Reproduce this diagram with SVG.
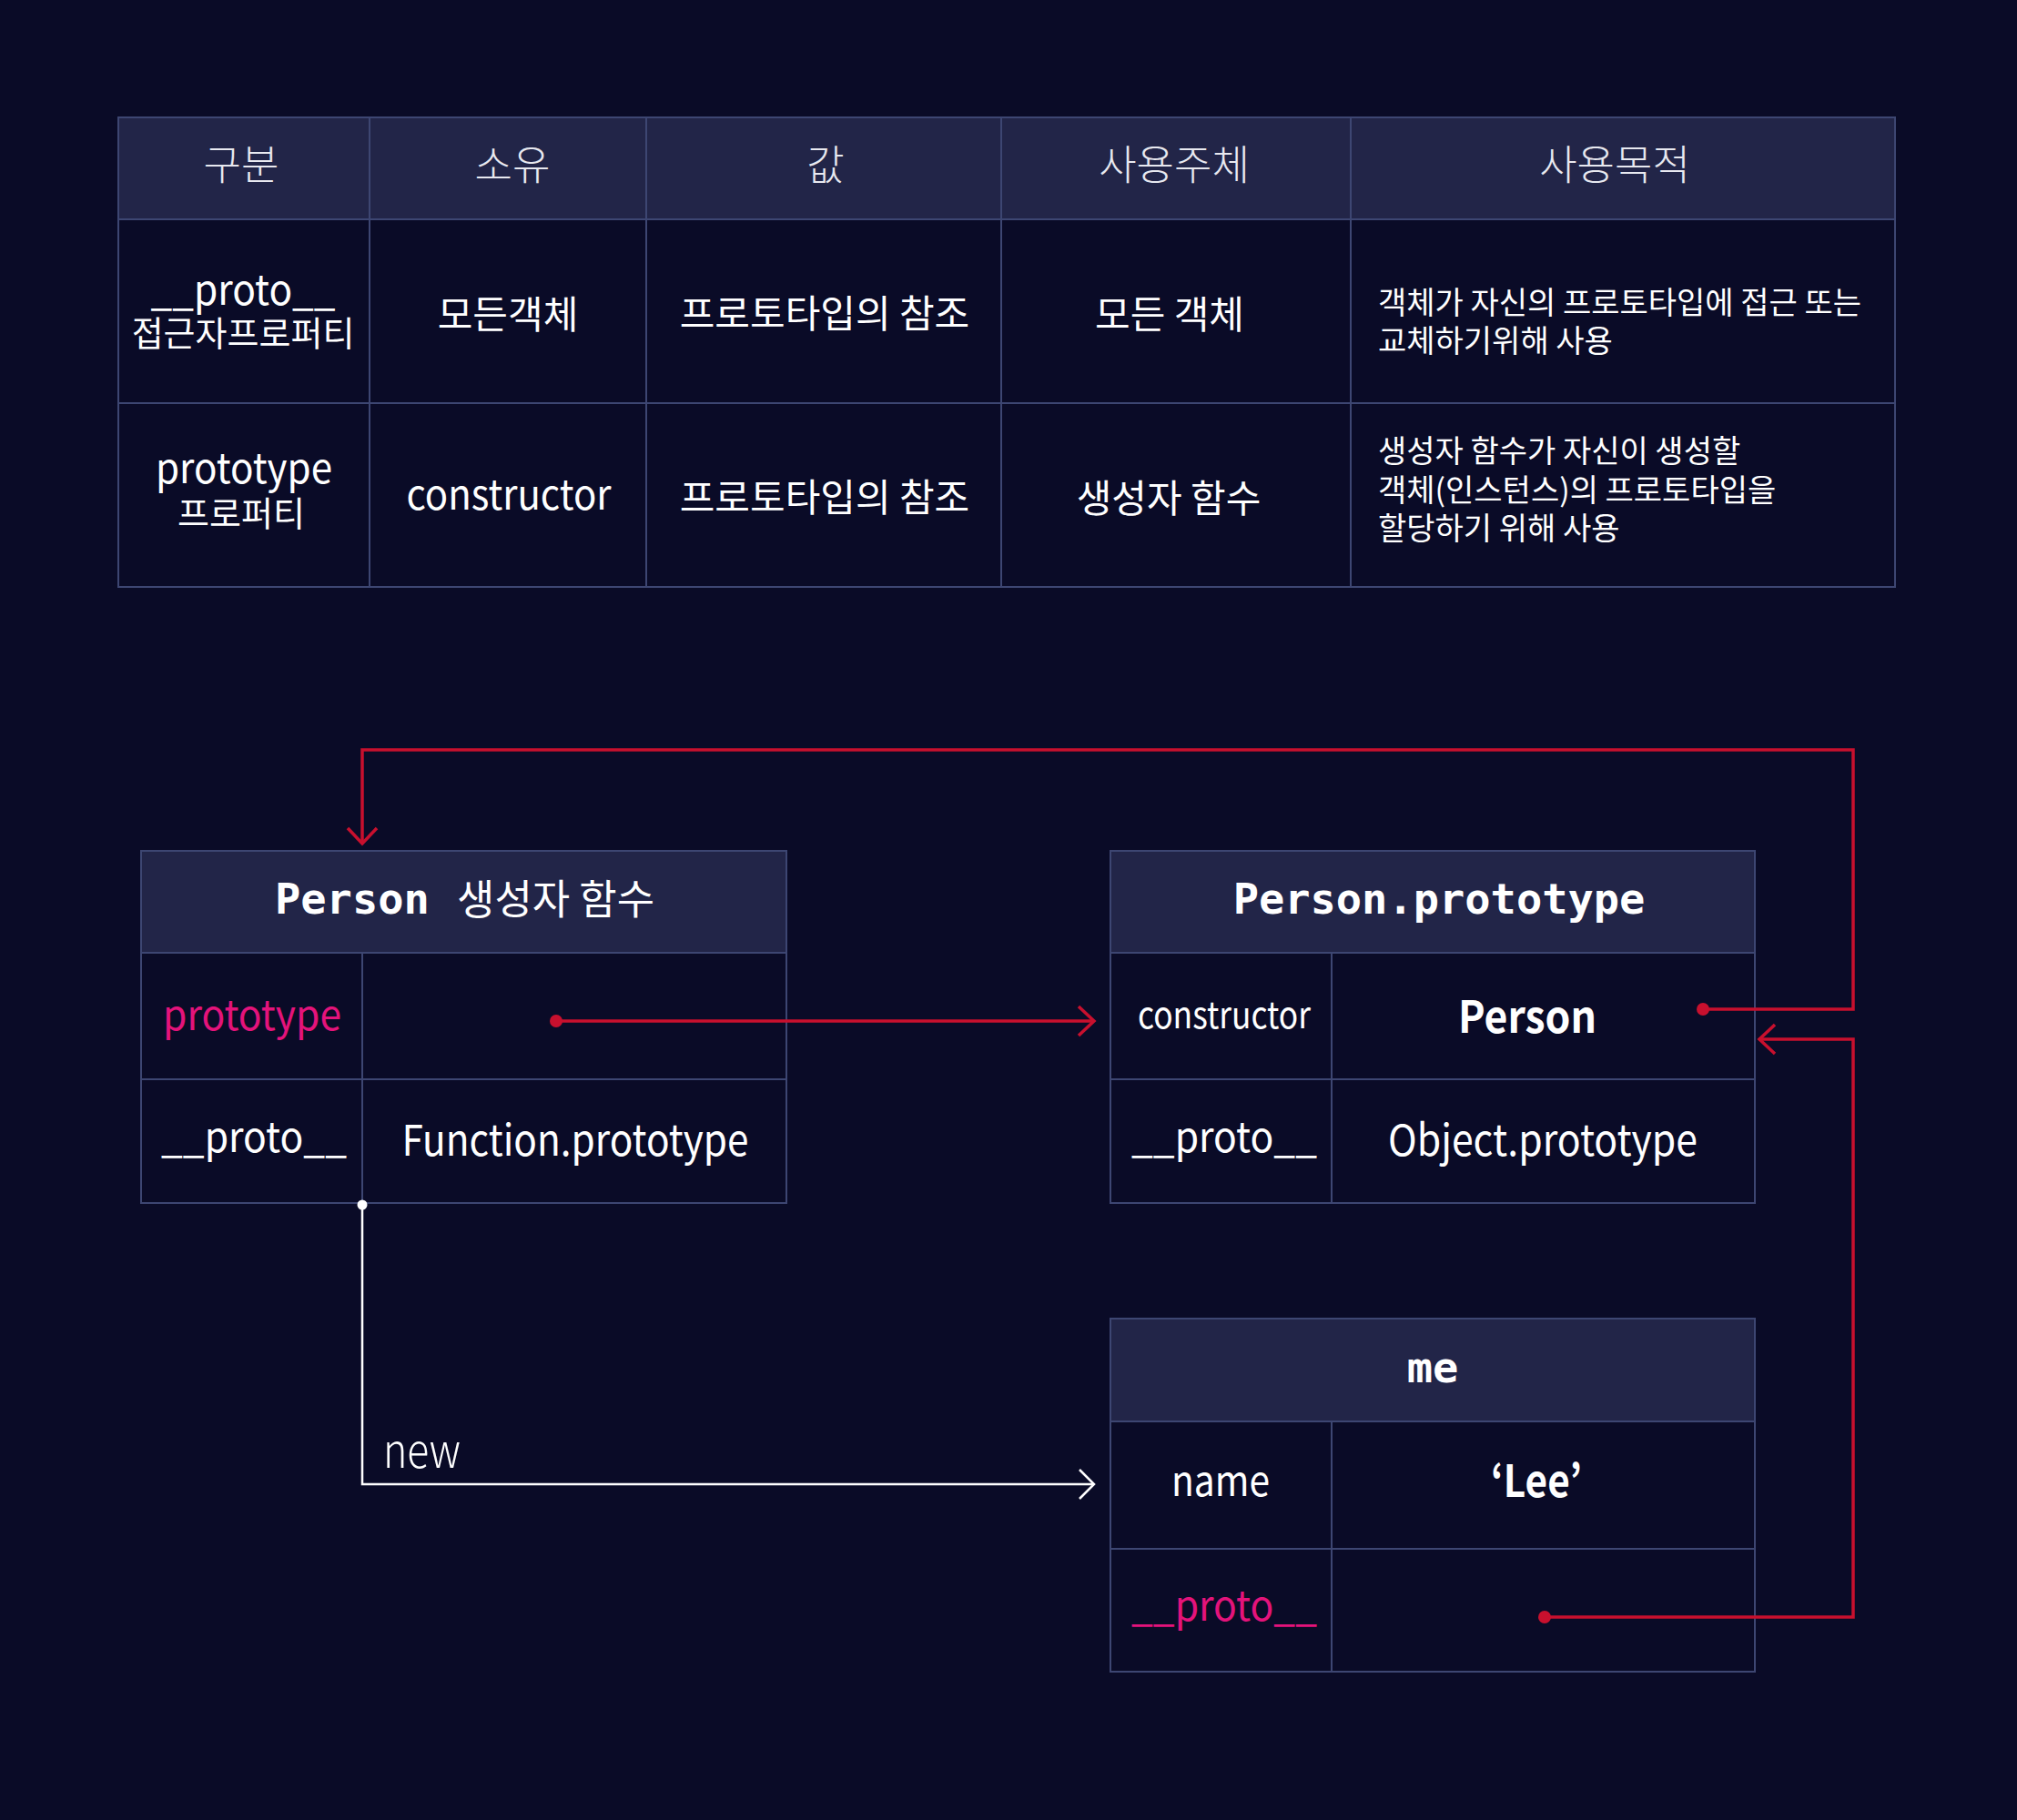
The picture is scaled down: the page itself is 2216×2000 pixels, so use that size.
<svg xmlns="http://www.w3.org/2000/svg" width="2216" height="2000" viewBox="0 0 2216 2000">
<defs>
<style>
.bg{fill:#0a0b27}
.hdr{fill:#222548}
.bd{fill:none;stroke:#3d4672;stroke-width:2}
.ln{stroke:#3d4672;stroke-width:2}
text{font-family:"Noto Sans CJK KR","Noto Sans",sans-serif;fill:#ffffff}
.th{font-size:45px;font-weight:300;text-anchor:middle;fill:#e8e9f0}
.td{font-size:42px;text-anchor:middle}
.tl{font-size:46px;text-anchor:middle}
.tsm{font-size:38px;text-anchor:middle}
.tp{font-size:34px}
.mono{font-family:"DejaVu Sans Mono","Liberation Mono",monospace;font-weight:bold;font-size:47px}
.pink{fill:#e4137b}
.b{font-weight:bold}
.red{fill:none;stroke:#c8102e;stroke-width:3.5}
.wht{fill:none;stroke:#ffffff;stroke-width:2.5}
</style>
</defs>
<rect class="bg" x="0" y="0" width="2216" height="2000"/>

<g id="table">
  <rect class="hdr" x="130" y="129" width="1952" height="112"/>
  <rect class="bd" x="130" y="129" width="1952" height="516"/>
  <line class="ln" x1="130" y1="241" x2="2082" y2="241"/>
  <line class="ln" x1="130" y1="443" x2="2082" y2="443"/>
  <line class="ln" x1="406" y1="129" x2="406" y2="645"/>
  <line class="ln" x1="710" y1="129" x2="710" y2="645"/>
  <line class="ln" x1="1100" y1="129" x2="1100" y2="645"/>
  <line class="ln" x1="1484" y1="129" x2="1484" y2="645"/>
  <g id="table-header">
    <text class="th" x="265" y="198">구분</text>
    <text class="th" x="563" y="198">소유</text>
    <text class="th" x="907" y="198">값</text>
    <text class="th" x="1290" y="198">사용주체</text>
    <text class="th" x="1774" y="198">사용목적</text>
  </g>
  <g id="table-row1">
    <text class="tl" x="267" y="335" textLength="203" lengthAdjust="spacingAndGlyphs">__proto__</text>
    <text class="tsm" x="267" y="380">접근자프로퍼티</text>
    <text class="td" x="558" y="361">모든객체</text>
    <text class="td" x="906" y="360">프로토타입의 참조</text>
    <text class="td" x="1285" y="361">모든 객체</text>
    <text class="tp" x="1514" y="345">객체가 자신의 프로토타입에 접근 또는<tspan x="1514" dy="42">교체하기위해 사용</tspan></text>
  </g>
  <g id="table-row2">
    <text class="tl" x="268" y="531" textLength="194" lengthAdjust="spacingAndGlyphs">prototype</text>
    <text class="tsm" x="265" y="578">프로퍼티</text>
    <text class="tl" x="559" y="560" textLength="225" lengthAdjust="spacingAndGlyphs">constructor</text>
    <text class="td" x="906" y="562">프로토타입의 참조</text>
    <text class="td" x="1284" y="563">생성자 함수</text>
    <text class="tp" x="1514" y="508">생성자 함수가 자신이 생성할<tspan x="1514" dy="42.5">객체(인스턴스)의 프로토타입을</tspan><tspan x="1514" dy="42.5">할당하기 위해 사용</tspan></text>
  </g>
</g>

<g id="person">
  <rect class="hdr" x="155" y="935" width="709" height="112"/>
  <rect class="bd" x="155" y="935" width="709" height="387"/>
  <line class="ln" x1="155" y1="1047" x2="864" y2="1047"/>
  <line class="ln" x1="155" y1="1186" x2="864" y2="1186"/>
  <line class="ln" x1="398" y1="1047" x2="398" y2="1322"/>
  <text class="mono" x="302" y="1004">Person</text>
  <text x="502" y="1005" style="font-size:45px">생성자 함수</text>
  <text class="tl pink" x="277" y="1132" textLength="196" lengthAdjust="spacingAndGlyphs">prototype</text>
  <text class="tl" x="279" y="1266" textLength="204" lengthAdjust="spacingAndGlyphs">__proto__</text>
  <text class="tl" x="632" y="1270" style="font-size:47px" textLength="381" lengthAdjust="spacingAndGlyphs">Function.prototype</text>
</g>

<g id="person-prototype">
  <rect class="hdr" x="1220" y="935" width="708" height="112"/>
  <rect class="bd" x="1220" y="935" width="708" height="387"/>
  <line class="ln" x1="1220" y1="1047" x2="1928" y2="1047"/>
  <line class="ln" x1="1220" y1="1186" x2="1928" y2="1186"/>
  <line class="ln" x1="1463" y1="1047" x2="1463" y2="1322"/>
  <text class="mono" x="1581" y="1004" style="text-anchor:middle">Person.prototype</text>
  <text class="tl" x="1345" y="1130" style="font-size:41px" textLength="190" lengthAdjust="spacingAndGlyphs">constructor</text>
  <text class="tl b" x="1678" y="1135" style="font-size:49px" textLength="152" lengthAdjust="spacingAndGlyphs">Person</text>
  <text class="tl" x="1345" y="1266" textLength="204" lengthAdjust="spacingAndGlyphs">__proto__</text>
  <text class="tl" x="1695" y="1270" style="font-size:47px" textLength="340" lengthAdjust="spacingAndGlyphs">Object.prototype</text>
</g>

<g id="me">
  <rect class="hdr" x="1220" y="1449" width="708" height="113"/>
  <rect class="bd" x="1220" y="1449" width="708" height="388"/>
  <line class="ln" x1="1220" y1="1562" x2="1928" y2="1562"/>
  <line class="ln" x1="1220" y1="1702" x2="1928" y2="1702"/>
  <line class="ln" x1="1463" y1="1562" x2="1463" y2="1837"/>
  <text class="mono" x="1574" y="1519" style="text-anchor:middle">me</text>
  <text class="tl" x="1341" y="1644" style="font-size:46px" textLength="108" lengthAdjust="spacingAndGlyphs">name</text>
  <text class="tl b" x="1688" y="1645" style="font-size:49px" textLength="100" lengthAdjust="spacingAndGlyphs">‘Lee’</text>
  <text class="tl pink" x="1345" y="1781" textLength="204" lengthAdjust="spacingAndGlyphs">__proto__</text>
</g>

<g id="connectors">
  <polyline class="red" points="1871,1109 2036,1109 2036,824 398,824 398,927"/>
  <polyline class="red" points="382,910 398,927 414,910"/>
  <circle cx="1871" cy="1109" r="7" fill="#c8102e"/>
  <line class="red" x1="611" y1="1122" x2="1202" y2="1122"/>
  <polyline class="red" points="1185,1106 1202,1122 1185,1138"/>
  <circle cx="611" cy="1122" r="7" fill="#c8102e"/>
  <polyline class="red" points="1697,1777 2036,1777 2036,1142 1932,1142"/>
  <polyline class="red" points="1950,1126 1933,1142 1950,1158"/>
  <circle cx="1697" cy="1777" r="7" fill="#c8102e"/>
  <polyline class="wht" points="398,1324 398,1631 1202,1631"/>
  <polyline class="wht" points="1186,1615 1202,1631 1186,1647"/>
  <circle cx="398" cy="1324" r="5.5" fill="#ffffff"/>
  <text x="421" y="1613" style="font-size:52px;font-weight:300" textLength="85" lengthAdjust="spacingAndGlyphs">new</text>
</g>
</svg>
